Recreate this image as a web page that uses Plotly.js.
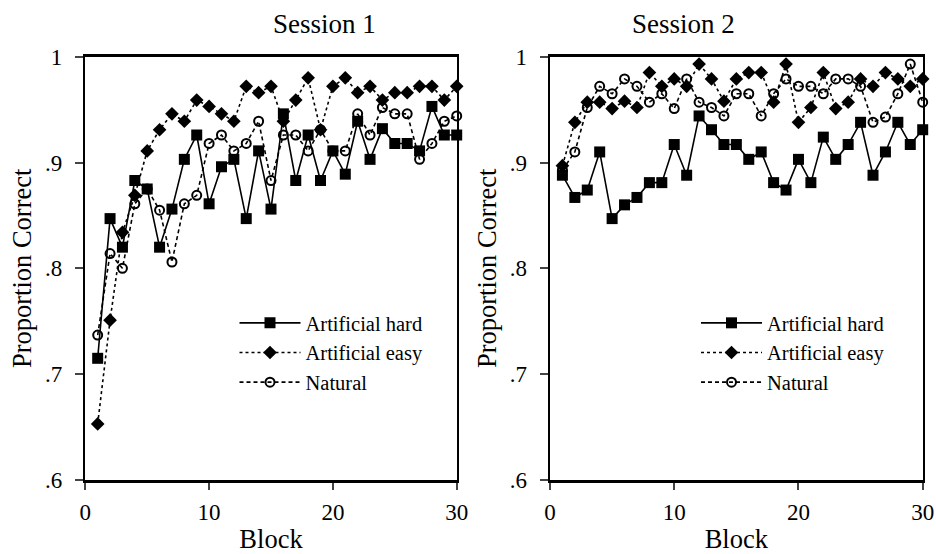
<!DOCTYPE html>
<html><head><meta charset="utf-8">
<script src="https://cdn.plot.ly/plotly-3.0.1.min.js"></script>
<style>html,body{margin:0;padding:0;background:#fff}#chart{width:936px;height:554px}</style>
</head><body><div id="chart"></div>
<script>
const blocks = Array.from({length:30},(_,i)=>i+1);
const s1Hard = [.715,.847,.820,.883,.875,.820,.856,.903,.926,.861,.896,.903,.847,.911,.856,.946,.883,.926,.883,.911,.889,.939,.903,.932,.918,.918,.911,.953,.926,.926];
const s1Easy = [.653,.751,.834,.869,.911,.931,.946,.939,.959,.953,.946,.939,.972,.966,.972,.939,.959,.980,.931,.972,.980,.966,.972,.959,.966,.966,.972,.972,.959,.972];
const s1Natural = [.737,.814,.800,.861,.875,.855,.806,.861,.869,.918,.926,.911,.918,.939,.883,.926,.926,.911,.931,.911,.911,.946,.926,.952,.946,.946,.903,.918,.939,.944];
const s2Hard = [.888,.867,.874,.910,.847,.860,.867,.881,.881,.917,.888,.944,.931,.917,.917,.903,.910,.881,.874,.903,.881,.924,.903,.917,.938,.888,.910,.938,.917,.931];
const s2Easy = [.897,.938,.957,.957,.951,.958,.952,.985,.972,.979,.972,.993,.979,.958,.979,.985,.985,.957,.993,.938,.952,.985,.951,.957,.979,.972,.985,.979,.972,.979];
const s2Natural = [.893,.910,.952,.972,.965,.979,.972,.957,.965,.951,.979,.957,.952,.944,.965,.965,.944,.965,.979,.972,.972,.965,.979,.979,.972,.938,.943,.965,.993,.957];
const seriesNames = ['Artificial hard','Artificial easy','Natural'];
const sessionTitles = ['Session 1','Session 2'];
const yTickVals = [0.6,0.7,0.8,0.9,1.0];
const yTickText = ['.6','.7','.8','.9','1'];
const xTickVals = [0,10,20,30];

const FONT = '"Liberation Serif", serif';
const styles = [
  {dash:'solid', marker:{symbol:'square', size:11, color:'#000'}},
  {dash:'dot', marker:{symbol:'diamond', size:10.5, color:'#000'}},
  {dash:'4px,3px', marker:{symbol:'circle-open', size:9, color:'#000', line:{width:2,color:'#000'}}}
];
function mk(y, idx, axis, legend){
  return {x:blocks, y:y, name:seriesNames[idx], type:'scatter', mode:'lines+markers',
    xaxis:'x'+(axis===1?'':axis), yaxis:'y'+(axis===1?'':axis), legend:legend,
    line:{color:'#000', width:1.6, dash:styles[idx].dash}, marker:styles[idx].marker, cliponaxis:false};
}
const data = [
  mk(s1Hard,0,1,'legend'), mk(s1Easy,1,1,'legend'), mk(s1Natural,2,1,'legend'),
  mk(s2Hard,0,2,'legend2'), mk(s2Easy,1,2,'legend2'), mk(s2Natural,2,2,'legend2')
];
function xa(dom){return {domain:dom, range:[0,30], tickvals:xTickVals, ticks:'outside', ticklen:7, tickwidth:2,
  ticklabelstandoff:3,
  showline:true, linewidth:2.5, linecolor:'#000', mirror:true, showgrid:false, zeroline:false,
  tickfont:{family:FONT,size:23,color:'#000'}, title:{text:'Block', font:{family:FONT,size:26.5,color:'#000'}, standoff:6}};}
function ya(dom){return {domain:dom, range:[0.6,1.0], tickvals:yTickVals, ticktext:yTickText, ticks:'outside', ticklen:8, tickwidth:2,
  ticklabelstandoff:8,
  showline:true, linewidth:2.5, linecolor:'#000', mirror:true, showgrid:false, zeroline:false,
  tickfont:{family:FONT,size:23,color:'#000'}, title:{text:'Proportion Correct', font:{family:FONT,size:26.5,color:'#000'}, standoff:6}};}
const ydom=[1-480/554, 1-56.7/554];
const legendBase = {font:{family:FONT,size:20.5,color:'#000'}, bgcolor:'rgba(0,0,0,0)', itemwidth:61, tracegroupgap:0, yanchor:'top', xanchor:'left'};
const layout = {
  width:936, height:554, margin:{l:0,r:0,t:0,b:0}, paper_bgcolor:'#fff', plot_bgcolor:'#fff',
  font:{family:FONT,color:'#000'},
  xaxis: Object.assign(xa([85.3/936,456.7/936]),{anchor:'y'}),
  yaxis: Object.assign(ya(ydom),{anchor:'x'}),
  xaxis2: Object.assign(xa([550/936,922.7/936]),{anchor:'y2'}),
  yaxis2: Object.assign(ya(ydom),{anchor:'x2'}),
  legend: Object.assign({}, legendBase, {x:234.5/936, y:1-303/554}),
  legend2: Object.assign({}, legendBase, {x:696/936, y:1-303/554}),
  annotations: [
    {text:sessionTitles[0], x:271/936, y:1-24/554, xref:'paper', yref:'paper', yanchor:'middle', showarrow:false, font:{family:FONT,size:27,color:'#000'}},
    {text:sessionTitles[1], x:737/936, y:1-24/554, xref:'paper', yref:'paper', yanchor:'middle', showarrow:false, font:{family:FONT,size:27,color:'#000'}}
  ]
};
Plotly.newPlot('chart', data, layout, {displayModeBar:false, staticPlot:true});
</script></body></html>
